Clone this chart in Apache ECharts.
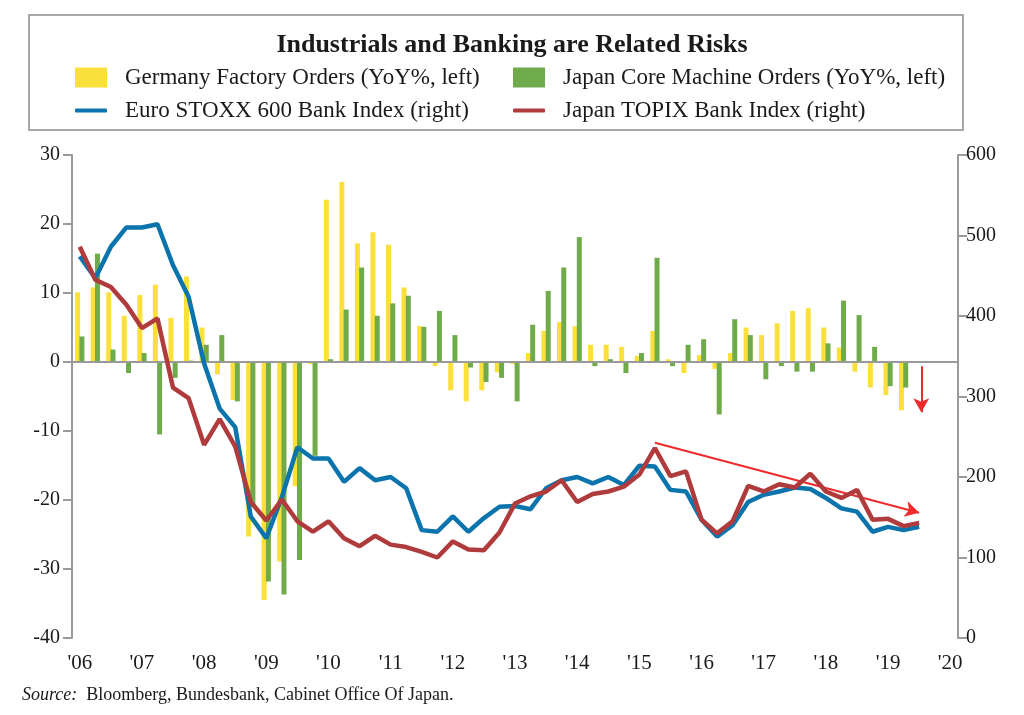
<!DOCTYPE html>
<html>
<head>
<meta charset="utf-8">
<script src="https://cdn.jsdelivr.net/npm/echarts@6/dist/echarts.min.js"></script>
<style>
  html, body { margin: 0; padding: 0; background: #ffffff; }
  #chart { width: 1024px; height: 715px; }
</style>
</head>
<body>
<div id="chart"></div>
<script>
// Quarterly categories 2006Q1 .. 2020Q1
const years = [2006,2007,2008,2009,2010,2011,2012,2013,2014,2015,2016,2017,2018,2019];
const categories = [];
years.forEach(y => { for (let q = 1; q <= 4; q++) categories.push(y + 'Q' + q); });
categories.push('2020Q1');

// Germany Factory Orders (YoY%, left)
const germanyOrders = [
  10.1, 10.8, 10.1, 6.7,   9.7, 11.2, 6.4, 12.4,
  5.0, -1.8, -5.5, -25.3,  -34.5, -28.9, -18.0, -0.3,
  23.5, 26.1, 17.2, 18.8,  17.0, 10.8, 5.2, -0.6,
  -4.1, -5.7, -4.1, -1.5,  -0.3, 1.3, 4.5, 5.8,
  5.2, 2.5, 2.5, 2.2,      0.9, 4.5, 0.4, -1.6,
  1.0, -1.0, 1.3, 5.0,     3.9, 5.6, 7.4, 7.8,
  5.0, 2.1, -1.4, -3.7,    -4.8, -7.0, null, null, null
];

// Japan Core Machine Orders (YoY%, left)
const japanOrders = [
  3.7, 15.7, 1.8, -1.6,    1.3, -10.5, -2.3, 0.2,
  2.5, 3.9, -5.7, -21.0,   -31.8, -33.7, -28.7, -13.6,
  0.4, 7.6, 13.7, 6.7,     8.5, 9.6, 5.1, 7.4,
  3.9, -0.8, -2.9, -2.3,   -5.7, 5.4, 10.3, 13.7,
  18.1, -0.6, 0.4, -1.6,   1.3, 15.1, -0.6, 2.5,
  3.3, -7.6, 6.2, 3.9,     -2.5, -0.6, -1.4, -1.4,
  2.7, 8.9, 6.8, 2.2,      -3.5, -3.7, null, null, null
];

// Euro STOXX 600 Bank Index (right)
const euroBank = [
  474, 447, 486, 510,   510, 514, 463, 424,
  341, 285, 262, 151,   124, 175, 237, 223,
  223, 194, 211, 196,   200, 186, 134, 132,
  151, 132, 149, 163,   164, 160, 186, 196,
  200, 192, 200, 190,   214, 213, 184, 182,
  147, 126, 140, 169,   178, 182, 187, 185,
  174, 161, 157, 132,   138, 134, 138, null, null
];

// Japan TOPIX Bank Index (right)
const topixBank = [
  486, 445, 436, 414,   385, 397, 311, 298,
  240, 272, 238, 169,   146, 172, 145, 132,
  145, 124, 114, 127,   116, 113, 107, 100,
  120, 110, 109, 131,   167, 176, 182, 196,
  169, 179, 182, 188,   203, 236, 201, 207,
  147, 130, 145, 189,   182, 191, 187, 204,
  182, 174, 184, 147,   148, 139, 143, null, null
];

// Annotation arrows (category index, value)
const trendArrow = [[37, 242.6], [54, 155.7]];
const downArrow = [[54, -0.6], [54, -7.3]];

const leftTicks = { min: -40, max: 30, interval: 10 };
const rightTicks = { min: 0, max: 600, interval: 100 };

const FONT = '"Liberation Serif", "DejaVu Serif", serif';
const AXIS_COLOR = '#9a9a9a';
const TEXT_COLOR = '#1a1a1a';

const chart = echarts.init(document.getElementById('chart'), null, { renderer: 'canvas' });

const legendText = { fontFamily: FONT, fontSize: 23, color: TEXT_COLOR, padding: [0, 0, 0, 13] };

const option = {
  animation: false,
  backgroundColor: '#ffffff',
  title: {
    text: 'Industrials and Banking are Related Risks',
    left: 'center',
    top: 27,
    textStyle: { fontFamily: FONT, fontSize: 26, fontWeight: 'bold', color: TEXT_COLOR }
  },
  legend: [
    { data: ['Germany Factory Orders (YoY%, left)'], left: 70, top: 61, itemWidth: 32, itemHeight: 20, icon: 'rect', textStyle: legendText, selectedMode: false },
    { data: ['Japan Core Machine Orders (YoY%, left)'], left: 508, top: 61, itemWidth: 32, itemHeight: 20, icon: 'rect', textStyle: legendText, selectedMode: false },
    { data: ['Euro STOXX 600 Bank Index (right)'], left: 70, top: 94, itemWidth: 32, itemHeight: 4, icon: 'roundRect', textStyle: legendText, selectedMode: false },
    { data: ['Japan TOPIX Bank Index (right)'], left: 508, top: 94, itemWidth: 32, itemHeight: 4, icon: 'roundRect', textStyle: legendText, selectedMode: false }
  ],
  grid: { left: 72, right: 66, top: 155, bottom: 77, containLabel: false },
  xAxis: {
    type: 'category',
    data: categories,
    boundaryGap: true,
    axisLine: { show: false },
    axisTick: { show: false },
    axisLabel: {
      interval: 3,
      margin: 15,
      fontFamily: FONT, fontSize: 21, color: TEXT_COLOR,
      formatter: v => "'" + v.slice(2, 4)
    },
    splitLine: { show: false }
  },
  yAxis: [
    {
      type: 'value', position: 'left',
      min: leftTicks.min, max: leftTicks.max, interval: leftTicks.interval,
      axisLine: { show: true, lineStyle: { color: AXIS_COLOR, width: 2 } },
      axisTick: { show: true, inside: false, length: 9, lineStyle: { color: AXIS_COLOR, width: 2 } },
      axisLabel: { fontFamily: FONT, fontSize: 20, color: TEXT_COLOR, margin: 12 },
      splitLine: { show: false }
    },
    {
      type: 'value', position: 'right',
      min: rightTicks.min, max: rightTicks.max, interval: rightTicks.interval,
      axisLine: { show: true, lineStyle: { color: AXIS_COLOR, width: 2 } },
      axisTick: { show: true, inside: false, length: 9, lineStyle: { color: AXIS_COLOR, width: 2 } },
      axisLabel: { fontFamily: FONT, fontSize: 20, color: TEXT_COLOR, margin: 8 },
      splitLine: { show: false }
    }
  ],
  series: [
    {
      name: 'Germany Factory Orders (YoY%, left)',
      type: 'bar', yAxisIndex: 0, data: germanyOrders,
      barWidth: 5, barGap: '-15%',
      itemStyle: { color: '#fbe03c' },
      markLine: {
        silent: true, symbol: ['none', 'none'],
        label: { show: false },
        lineStyle: { color: AXIS_COLOR, width: 2, type: 'solid' },
        data: [{ yAxis: 0 }]
      }
    },
    {
      name: 'Japan Core Machine Orders (YoY%, left)',
      type: 'bar', yAxisIndex: 0, data: japanOrders,
      barWidth: 5,
      itemStyle: { color: '#6fab4b' },
      markLine: {
        silent: true, symbol: ['none', 'arrow'], symbolSize: [12, 14],
        label: { show: false },
        lineStyle: { color: '#ee2a2d', width: 2, type: 'solid' },
        data: [[{ coord: downArrow[0] }, { coord: downArrow[1] }]]
      }
    },
    {
      name: 'Euro STOXX 600 Bank Index (right)',
      type: 'line', yAxisIndex: 1, data: euroBank,
      symbol: 'none', z: 5,
      lineStyle: { color: '#0b74ad', width: 4.5 },
      itemStyle: { color: '#0b74ad' }
    },
    {
      name: 'Japan TOPIX Bank Index (right)',
      type: 'line', yAxisIndex: 1, data: topixBank,
      symbol: 'none', z: 6,
      lineStyle: { color: '#b03b3c', width: 4.5 },
      itemStyle: { color: '#b03b3c' },
      markLine: {
        silent: true, symbol: ['none', 'arrow'], symbolSize: [12, 14],
        label: { show: false },
        lineStyle: { color: '#ee2a2d', width: 2, type: 'solid' },
        data: [[{ coord: trendArrow[0] }, { coord: trendArrow[1] }]]
      }
    }
  ],
  graphic: [
    {
      type: 'rect', z: -1,
      shape: { x: 29, y: 15, width: 934, height: 115 },
      style: { fill: 'none', stroke: '#a8a8a8', lineWidth: 2 }
    },
    {
      type: 'text', left: 22, top: 686,
      style: {
        text: '{i|Source:}  Bloomberg, Bundesbank, Cabinet Office Of Japan.',
        rich: {
          i: { fontFamily: FONT, fontStyle: 'italic', fontSize: 18, fill: TEXT_COLOR }
        },
        font: '18px ' + FONT,
        fill: TEXT_COLOR
      }
    }
  ]
};

chart.setOption(option);
</script>
</body>
</html>
